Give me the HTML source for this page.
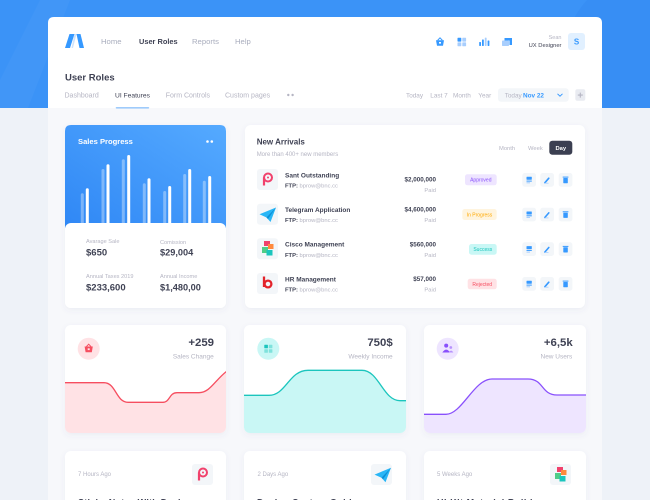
<!DOCTYPE html>
<html><head><meta charset="utf-8">
<style>
html,body{margin:0;padding:0;width:650px;height:500px;overflow:hidden;background:#f1f4f9}
svg{display:block}
text{font-family:"Liberation Sans",sans-serif}
</style></head>
<body>
<svg width="650" height="500" viewBox="0 0 650 500" xmlns="http://www.w3.org/2000/svg">
<defs>
  <filter id="sh" x="-10%" y="-10%" width="120%" height="130%">
    <feDropShadow dx="0" dy="2" stdDeviation="3" flood-color="#52668f" flood-opacity="0.07"/>
  </filter>
  <linearGradient id="bl" x1="0" y1="1" x2="1" y2="0">
    <stop offset="0" stop-color="#2f87f5"/>
    <stop offset="1" stop-color="#55aaff"/>
  </linearGradient>
  <clipPath id="band"><rect x="0" y="0" width="650" height="108"/></clipPath>
  <clipPath id="c1"><rect x="65" y="325" width="161" height="108" rx="6"/></clipPath>
  <clipPath id="c2"><rect x="244" y="325" width="162" height="108" rx="6"/></clipPath>
  <clipPath id="c3"><rect x="424" y="325" width="162" height="108" rx="6"/></clipPath>
</defs>

<!-- background -->
<rect width="650" height="500" fill="#eef2f8"/>
<rect width="650" height="108" fill="#3b93f7"/>
<g clip-path="url(#band)">
<polygon points="40,0 70,0 28,108 0,108 0,80" fill="#ffffff" opacity="0.03"/>
<circle cx="655" cy="62" r="92" fill="#2f86ef" opacity="0.3"/>
</g>
<rect x="48" y="108" width="554" height="392" fill="#f7f8fb"/>

<!-- header card -->
<path d="M48,108 V23 Q48,17 54,17 H596 Q602,17 602,23 V108 Z" fill="#ffffff"/>
<!-- logo -->
<polygon points="65,48 69.5,34 74.5,34 70,48" fill="#3699ff"/>
<polygon points="74.5,34 76.5,34 73,48 71.5,48" fill="#cfe3fb"/>
<polygon points="76.5,34 80.5,34 84,48 79.5,48" fill="#3699ff"/>

<text x="101" y="44" font-size="7.7" fill="#a9adbd">Home</text>
<text x="139" y="44" font-size="7.4" fill="#3f4254" font-weight="bold">User Roles</text>
<text x="192" y="44" font-size="7.7" fill="#a9adbd">Reports</text>
<text x="235" y="44" font-size="7.7" fill="#a9adbd">Help</text>

<!-- header icons -->
<path d="M437.6,40.4 L440,37.8 L442.4,40.4" stroke="#3699ff" stroke-width="1" fill="none"/>
<path d="M436,40.3 H444 L443,45.8 H437 Z" fill="#3699ff"/>
<rect x="439" y="42" width="2" height="1.6" fill="#ffffff"/>
<rect x="457.5" y="37.8" width="3.8" height="3.8" rx="0.6" fill="#3699ff"/>
<rect x="462.3" y="37.8" width="3.8" height="3.8" rx="0.6" fill="#a8cefd"/>
<rect x="457.5" y="42.4" width="3.8" height="3.8" rx="0.6" fill="#a8cefd"/>
<rect x="462.3" y="42.4" width="3.8" height="3.8" rx="0.6" fill="#a8cefd"/>
<rect x="479.2" y="42" width="1.8" height="4" rx="0.6" fill="#3699ff"/>
<rect x="482" y="39.5" width="1.8" height="6.5" rx="0.6" fill="#3699ff"/>
<rect x="484.8" y="37.6" width="1.8" height="8.4" rx="0.6" fill="#a8cefd"/>
<rect x="487.6" y="40.5" width="1.8" height="5.5" rx="0.6" fill="#3699ff"/>
<rect x="502" y="40.5" width="7" height="5.5" rx="0.8" fill="#a8cefd"/>
<path d="M504.5,38 H512 V45 H509.5 V40.5 H504.5 Z" fill="#3699ff"/>

<text x="561.5" y="38.8" font-size="5.5" fill="#b5b5c3" text-anchor="end">Sean</text>
<text x="561.5" y="47.2" font-size="5.8" fill="#3f4254" text-anchor="end">UX Designer</text>
<rect x="568" y="33" width="17" height="17" rx="3" fill="#e1f0ff"/>
<text x="576.5" y="44.6" font-size="8" fill="#3699ff" text-anchor="middle" font-weight="bold">S</text>

<text x="65" y="80.5" font-size="9.5" fill="#3f4254" font-weight="bold">User Roles</text>

<text x="64.5" y="97.4" font-size="7" fill="#b5b5c3">Dashboard</text>
<text x="115" y="97.4" font-size="6.7" fill="#3f4254">UI Features</text>
<text x="165.7" y="97.4" font-size="7" fill="#b5b5c3">Form Controls</text>
<text x="225" y="97.4" font-size="7" fill="#b5b5c3">Custom pages</text>
<circle cx="288.3" cy="95" r="1.2" fill="#b5b5c3"/>
<circle cx="292.6" cy="95" r="1.2" fill="#b5b5c3"/>
<rect x="115.7" y="107" width="33.5" height="1.6" rx="0.8" fill="#9fcbfb"/>

<text x="406" y="97.4" font-size="6.4" fill="#b5b5c3">Today</text>
<text x="430.3" y="97.4" font-size="6.4" fill="#b5b5c3">Last 7</text>
<text x="453" y="97.4" font-size="6.4" fill="#b5b5c3">Month</text>
<text x="478.3" y="97.4" font-size="6.4" fill="#b5b5c3">Year</text>
<rect x="498" y="88.3" width="70.7" height="13.4" rx="3" fill="#f3f6f9"/>
<text x="504.7" y="97.4" font-size="6.4" fill="#b5b5c3">Today</text>
<text x="523" y="97.4" font-size="6.4" fill="#3699ff" font-weight="bold">Nov 22</text>
<path d="M557.5,93.8 L560,96.2 L562.5,93.8" stroke="#3699ff" stroke-width="1" fill="none"/>
<rect x="575.3" y="89.3" width="10" height="11.4" rx="2" fill="#e9ebf1"/>
<path d="M580.3,92.6 V97.6 M577.8,95.1 H582.8" stroke="#b5b5c3" stroke-width="1.1"/>

<!-- Sales Progress card -->
<g filter="url(#sh)">
<rect x="65" y="125" width="161" height="183" rx="6" fill="#ffffff"/>
</g>
<path d="M65,228 V131 Q65,125 71,125 H220 Q226,125 226,131 V228 Z" fill="url(#bl)"/>
<text x="78" y="144" font-size="7.6" fill="#ffffff" font-weight="bold">Sales Progress</text>
<circle cx="207.5" cy="141.5" r="1.3" fill="#ffffff"/>
<circle cx="211.8" cy="141.5" r="1.3" fill="#ffffff"/>
<g fill="#ffffff" opacity="0.35">
<rect x="80.8" y="193.3" width="3" height="32" rx="1.5"/>
<rect x="101.5" y="169" width="3" height="56" rx="1.5"/>
<rect x="121.8" y="159.3" width="3" height="66" rx="1.5"/>
<rect x="142.8" y="183.3" width="3" height="42" rx="1.5"/>
<rect x="163.2" y="191" width="3" height="34" rx="1.5"/>
<rect x="183.2" y="174" width="3" height="51" rx="1.5"/>
<rect x="202.8" y="180.7" width="3" height="45" rx="1.5"/>
</g>
<g fill="#ffffff">
<rect x="85.8" y="188.3" width="3" height="37" rx="1.5"/>
<rect x="106.5" y="164.3" width="3" height="61" rx="1.5"/>
<rect x="127.2" y="155" width="3" height="70" rx="1.5"/>
<rect x="147.5" y="178.3" width="3" height="47" rx="1.5"/>
<rect x="168.2" y="186" width="3" height="39" rx="1.5"/>
<rect x="188.2" y="169" width="3" height="56" rx="1.5"/>
<rect x="208.2" y="176" width="3" height="49" rx="1.5"/>
</g>
<rect x="65" y="223" width="161" height="85" rx="6" fill="#ffffff"/>
<text x="86" y="243" font-size="5.6" fill="#b5b5c3">Avarage Sale</text>
<text x="86" y="255.5" font-size="9.5" fill="#3f4254" font-weight="bold">$650</text>
<text x="160" y="244" font-size="5.6" fill="#b5b5c3">Comission</text>
<text x="160" y="255.5" font-size="9.2" fill="#3f4254" font-weight="bold">$29,004</text>
<text x="86" y="278" font-size="5.6" fill="#b5b5c3">Annual Taxes 2019</text>
<text x="86" y="290.5" font-size="9.5" fill="#3f4254" font-weight="bold">$233,600</text>
<text x="160" y="278" font-size="5.6" fill="#b5b5c3">Annual Income</text>
<text x="160" y="290.5" font-size="9.2" fill="#3f4254" font-weight="bold">$1,480,00</text>

<!-- New Arrivals card -->
<g filter="url(#sh)">
<rect x="245" y="125" width="340" height="183" rx="6" fill="#ffffff"/>
</g>
<text x="256.7" y="144.5" font-size="8" fill="#3f4254" font-weight="bold">New Arrivals</text>
<text x="256.7" y="156" font-size="6" fill="#b5b5c3">More than 400+ new members</text>
<text x="499" y="149.8" font-size="5.8" fill="#b5b5c3">Month</text>
<text x="528" y="149.8" font-size="5.8" fill="#b5b5c3">Week</text>
<rect x="549.3" y="140.7" width="23" height="14" rx="3" fill="#3b3f51"/>
<text x="560.8" y="149.8" font-size="5.8" fill="#ffffff" text-anchor="middle" font-weight="bold">Day</text>

<!-- row icon boxes -->
<g fill="#f3f6f9">
<rect x="257" y="169" width="21" height="21" rx="3"/>
<rect x="257" y="203.7" width="21" height="21" rx="3"/>
<rect x="257" y="238.3" width="21" height="21" rx="3"/>
<rect x="257" y="273" width="21" height="21" rx="3"/>
</g>
<!-- P logo -->
<circle cx="268" cy="177.5" r="4" stroke="#f1416c" stroke-width="2" fill="none"/>
<path d="M264,177.5 V185.5" stroke="#f1416c" stroke-width="2.2"/>
<circle cx="268" cy="177.5" r="1" fill="#f1416c"/>
<!-- telegram -->
<polygon points="259.5,214.3 276,207.5 270.5,222 266.5,217.5" fill="#29b6f6"/>
<polygon points="266.5,217.5 276,207.5 268,219" fill="#0d8fd6"/>
<!-- puzzle -->
<rect x="264" y="241" width="6" height="5" fill="#f1416c"/>
<rect x="268" y="244" width="5.5" height="5" fill="#ff8a3d"/>
<rect x="262" y="247" width="6" height="6" fill="#50cd89"/>
<rect x="266.5" y="250" width="6" height="5.5" fill="#1bc5bd"/>
<!-- b logo -->
<path d="M264,276.5 V287" stroke="#e3242b" stroke-width="2.3"/>
<circle cx="268" cy="284" r="3.4" stroke="#e3242b" stroke-width="2.3" fill="none"/>

<g font-size="6.5" fill="#3f4254" font-weight="bold">
<text x="285" y="177.3">Sant Outstanding</text>
<text x="285" y="212">Telegram Application</text>
<text x="285" y="246.6">Cisco Management</text>
<text x="285" y="281.3">HR Management</text>
</g>
<g font-size="5.8">
<text x="285" y="187.4"><tspan fill="#3f4254" font-weight="bold">FTP:</tspan><tspan fill="#b5b5c3"> bprow@bnc.cc</tspan></text>
<text x="285" y="222.1"><tspan fill="#3f4254" font-weight="bold">FTP:</tspan><tspan fill="#b5b5c3"> bprow@bnc.cc</tspan></text>
<text x="285" y="257.1"><tspan fill="#3f4254" font-weight="bold">FTP:</tspan><tspan fill="#b5b5c3"> bprow@bnc.cc</tspan></text>
<text x="285" y="291.4"><tspan fill="#3f4254" font-weight="bold">FTP:</tspan><tspan fill="#b5b5c3"> bprow@bnc.cc</tspan></text>
</g>
<g font-size="6.3" fill="#3f4254" font-weight="bold" text-anchor="end">
<text x="436" y="181.5">$2,000,000</text>
<text x="436" y="211.5">$4,600,000</text>
<text x="436" y="246.5">$560,000</text>
<text x="436" y="280.9">$57,000</text>
</g>
<g font-size="5.8" fill="#b5b5c3" text-anchor="end">
<text x="436" y="192.1">Paid</text>
<text x="436" y="222.1">Paid</text>
<text x="436" y="257.1">Paid</text>
<text x="436" y="291.4">Paid</text>
</g>
<!-- badges -->
<rect x="465" y="174.3" width="31.7" height="11" rx="2.5" fill="#eee5ff"/>
<text x="480.8" y="181.6" font-size="5" fill="#8950fc" text-anchor="middle">Approved</text>
<rect x="462.3" y="209" width="34.4" height="11" rx="2.5" fill="#fff4de"/>
<text x="479.5" y="216.3" font-size="5" fill="#ffa800" text-anchor="middle">In Progress</text>
<rect x="469" y="244" width="27.7" height="10.7" rx="2.5" fill="#c9f7f5"/>
<text x="482.8" y="251.1" font-size="5" fill="#1bc5bd" text-anchor="middle">Success</text>
<rect x="467.7" y="278.7" width="29" height="10.6" rx="2.5" fill="#ffe2e5"/>
<text x="482.2" y="285.8" font-size="5" fill="#f64e60" text-anchor="middle">Rejected</text>

<!-- action buttons -->
<g id="acts">
<g fill="#f3f6f9">
<rect x="522.3" y="173" width="13.7" height="13.7" rx="2.5"/>
<rect x="540.3" y="173" width="13.7" height="13.7" rx="2.5"/>
<rect x="558.7" y="173" width="13.7" height="13.7" rx="2.5"/>
</g>
<rect x="526.5" y="176.8" width="5.3" height="3" rx="0.5" fill="#3699ff"/>
<rect x="526.5" y="180.6" width="5.3" height="1" fill="#3699ff"/>
<rect x="526.5" y="182.3" width="3.5" height="1" fill="#a8cefd"/>
<path d="M544.8,182.8 L548.8,178.2" stroke="#3699ff" stroke-width="1.6" stroke-linecap="round"/>
<path d="M544.5,183.2 h4" stroke="#a8cefd" stroke-width="0.8"/>
<rect x="563.3" y="178" width="4.5" height="5.2" rx="0.6" fill="#3699ff"/>
<rect x="562.7" y="176.6" width="5.7" height="1" fill="#3699ff"/>
</g>
<use href="#acts" y="34.7"/>
<use href="#acts" y="69.3"/>
<use href="#acts" y="104"/>

<!-- stat cards -->
<g filter="url(#sh)">
<rect x="65" y="325" width="161" height="108" rx="6" fill="#ffffff"/>
<rect x="244" y="325" width="162" height="108" rx="6" fill="#ffffff"/>
<rect x="424" y="325" width="162" height="108" rx="6" fill="#ffffff"/>
</g>
<g clip-path="url(#c1)">
<path d="M65,382.7 L104,382.7 C116,382.7 116,402.3 128,402.3 L163,402.3 C170,402.3 169,392.7 177,392.7 L199,392.7 C210,392.7 215,380 227,371 L227,440 L65,440 Z" fill="#ffe2e5"/>
<path d="M65,382.7 L104,382.7 C116,382.7 116,402.3 128,402.3 L163,402.3 C170,402.3 169,392.7 177,392.7 L199,392.7 C210,392.7 215,380 227,371" fill="none" stroke="#f64e60" stroke-width="1.3"/>
</g>
<g clip-path="url(#c2)">
<path d="M244,395.3 L269,395.3 C286,395.3 289,370.3 308,370.3 L362,370.3 C379,370.3 383,400.7 400,400.7 L407,400.7 L407,440 L244,440 Z" fill="#c9f7f5"/>
<path d="M244,395.3 L269,395.3 C286,395.3 289,370.3 308,370.3 L362,370.3 C379,370.3 383,400.7 400,400.7 L407,400.7" fill="none" stroke="#1bc5bd" stroke-width="1.3"/>
</g>
<g clip-path="url(#c3)">
<path d="M424,414.3 L446,414.3 C462,414.3 474,379 492,379 L528,379 C544,379 541,395 557,395 L587,395 L587,440 L424,440 Z" fill="#eee5ff"/>
<path d="M424,414.3 L446,414.3 C462,414.3 474,379 492,379 L528,379 C544,379 541,395 557,395 L587,395" fill="none" stroke="#8950fc" stroke-width="1.3"/>
</g>

<!-- stat card icons -->
<circle cx="88.7" cy="348.7" r="11" fill="#ffe2e5"/>
<path d="M86.4,346.6 L88.7,344.2 L91,346.6" stroke="#f64e60" stroke-width="1" fill="none"/>
<path d="M84.6,346.5 H92.8 L91.8,352.3 H85.6 Z" fill="#f64e60"/>
<rect x="87.7" y="348.3" width="2" height="1.8" fill="#ffe2e5"/>

<circle cx="268.3" cy="348.7" r="11" fill="#c9f7f5"/>
<rect x="264.3" y="344.7" width="3.6" height="3.6" rx="0.6" fill="#1bc5bd"/>
<rect x="268.8" y="344.7" width="3.6" height="3.6" rx="0.6" fill="#7fe2dc"/>
<rect x="264.3" y="349.2" width="3.6" height="3.6" rx="0.6" fill="#7fe2dc"/>
<rect x="268.8" y="349.2" width="3.6" height="3.6" rx="0.6" fill="#7fe2dc"/>

<circle cx="447.7" cy="348.7" r="11" fill="#eee5ff"/>
<circle cx="446.2" cy="345.6" r="2" fill="#8950fc"/>
<path d="M442.3,352.5 Q446.2,346.8 450.1,352.5 Z" fill="#8950fc"/>
<circle cx="450.8" cy="347.5" r="1.4" fill="#b792fd"/>
<path d="M449,352.5 Q451,348.8 453.3,352.5 Z" fill="#b792fd"/>

<text x="214" y="346" font-size="11.4" fill="#3f4254" font-weight="bold" text-anchor="end">+259</text>
<text x="213.7" y="358.3" font-size="6.5" fill="#b5b5c3" text-anchor="end">Sales Change</text>
<text x="392.7" y="346" font-size="11.4" fill="#3f4254" font-weight="bold" text-anchor="end">750$</text>
<text x="392.7" y="358.3" font-size="6.5" fill="#b5b5c3" text-anchor="end">Weekly Income</text>
<text x="572.7" y="346" font-size="11.4" fill="#3f4254" font-weight="bold" text-anchor="end">+6,5k</text>
<text x="572.3" y="358.3" font-size="6.5" fill="#b5b5c3" text-anchor="end">New Users</text>

<!-- bottom cards -->
<g filter="url(#sh)">
<rect x="65" y="451" width="161" height="70" rx="6" fill="#ffffff"/>
<rect x="244" y="451" width="162" height="70" rx="6" fill="#ffffff"/>
<rect x="424" y="451" width="162" height="70" rx="6" fill="#ffffff"/>
</g>
<text x="78" y="476" font-size="6" fill="#b5b5c3">7 Hours Ago</text>
<text x="257.5" y="476" font-size="6" fill="#b5b5c3">2 Days Ago</text>
<text x="437" y="476" font-size="6" fill="#b5b5c3">5 Weeks Ago</text>
<rect x="192" y="464" width="21" height="21" rx="3" fill="#f3f6f9"/>
<rect x="371" y="464" width="21" height="21" rx="3" fill="#f3f6f9"/>
<rect x="550" y="464" width="21" height="21" rx="3" fill="#f3f6f9"/>
<circle cx="203" cy="472.5" r="4" stroke="#f1416c" stroke-width="2" fill="none"/>
<path d="M199,472.5 V480.5" stroke="#f1416c" stroke-width="2.2"/>
<circle cx="203" cy="472.5" r="1" fill="#f1416c"/>
<polygon points="374.5,474.6 391,467.8 385.5,482.3 381.5,477.8" fill="#29b6f6"/>
<polygon points="381.5,477.8 391,467.8 383,479.3" fill="#0d8fd6"/>
<rect x="557" y="467" width="6" height="5" fill="#f1416c"/>
<rect x="561" y="470" width="5.5" height="5" fill="#ff8a3d"/>
<rect x="555" y="473" width="6" height="6" fill="#50cd89"/>
<rect x="559.5" y="476" width="6" height="5.5" fill="#1bc5bd"/>
<text x="78" y="505.5" font-size="9" fill="#3f4254" font-weight="bold" textLength="114">Sticky Notes With Design</text>
<text x="257" y="505.5" font-size="9" fill="#3f4254" font-weight="bold" textLength="100">Design System Guide</text>
<text x="437" y="505.5" font-size="9" fill="#3f4254" font-weight="bold" textLength="105">UI Kit Material Builder</text>
</svg>
</body></html>
